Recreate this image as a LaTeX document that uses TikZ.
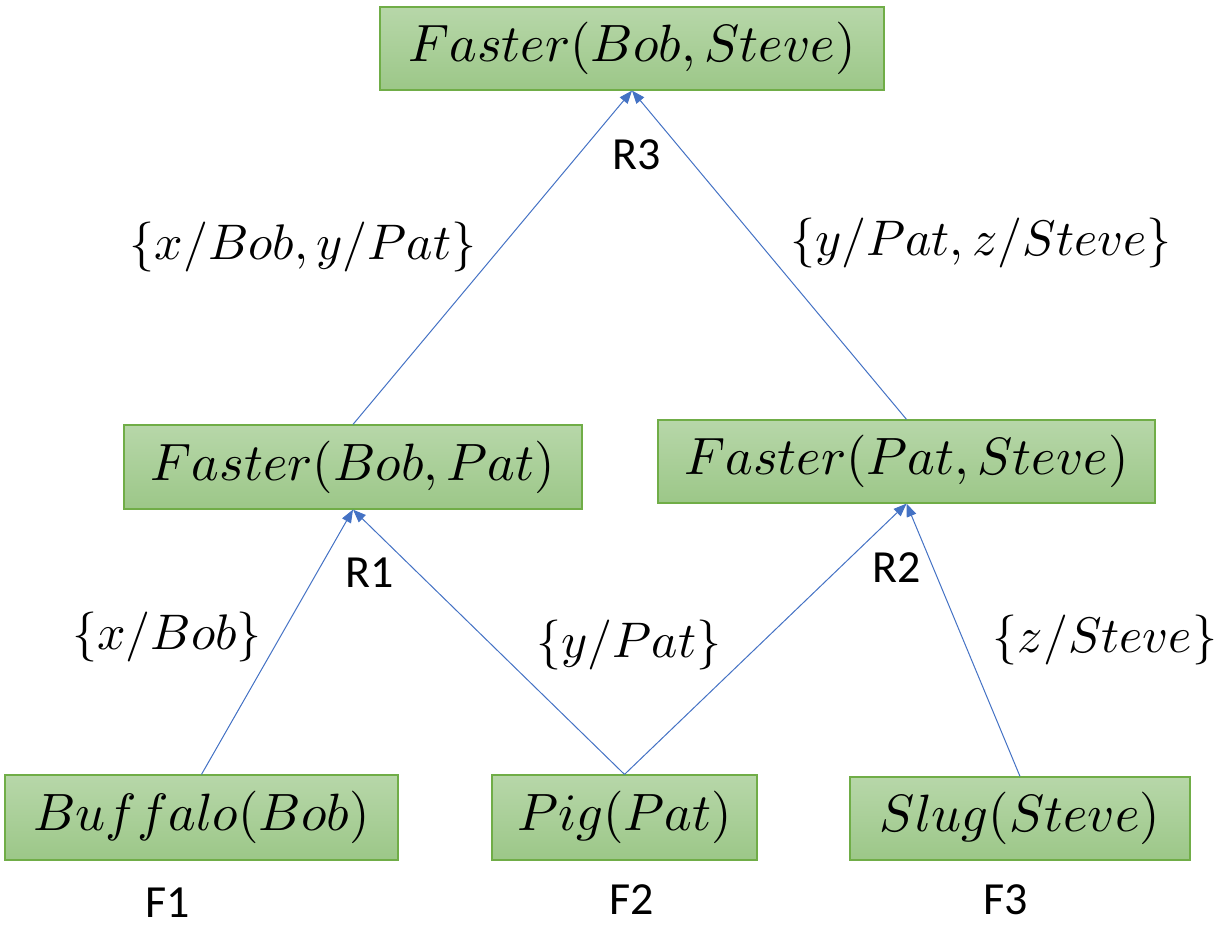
\documentclass[tikz,border=0pt]{standalone}
\usepackage{graphicx}
\usepackage{fontspec}
\newfontfamily\calib{Carlito}
\usetikzlibrary{arrows.meta}
\definecolor{gtop}{HTML}{B7D7A9}
\definecolor{gbot}{HTML}{9CC788}
\definecolor{gborder}{HTML}{70AD47}
\definecolor{arr}{HTML}{4472C4}
\newcommand{\boxmath}[1]{\scalebox{5.25}{$#1$}}
\newcommand{\submath}[1]{\scalebox{5.0}{$#1$}}
\tikzset{
  box/.style={draw=gborder, line width=1.2pt, top color=gtop, bottom color=gbot,
    inner sep=0pt},
  sub/.style={inner sep=0pt},
  tag/.style={font=\calib\fontsize{46}{54}\selectfont, inner sep=0pt},
  conn/.style={draw=arr, line width=1pt, -{Triangle[length=13pt,width=10pt]}}
}
\begin{document}
\begin{tikzpicture}[x=1pt,y=-1pt]
\useasboundingbox (0,0) rectangle (1230,930);
% boxes
\node[box, minimum width=504pt, minimum height=83pt] (top) at (632,48.5) {\boxmath{Faster(Bob,Steve)}};
\node[box, minimum width=458pt, minimum height=84pt] (fbp) at (353,467) {\boxmath{Faster(Bob,Pat)}};
\node[box, minimum width=497pt, minimum height=83pt] (fps) at (906.5,461.5) {\boxmath{Faster(Pat,Steve)}};
\node[box, minimum width=393pt, minimum height=85pt] (buf) at (201.5,817.5) {\boxmath{Buffalo(Bob)}};
\node[box, minimum width=265pt, minimum height=85pt] (pig) at (624.5,817.5) {\boxmath{Pig(Pat)}};
\node[box, minimum width=340pt, minimum height=83pt] (slug) at (1020,818.5) {\boxmath{Slug(Steve)}};
% connectors
\draw[conn] (fbp.north) -- (top.south);
\draw[conn] (fps.north) -- (top.south);
\draw[conn] (buf.north) -- (fbp.south);
\draw[conn] (pig.north) -- (fbp.south);
\draw[conn] (pig.north) -- (fps.south);
\draw[conn] (slug.north) -- (fps.south);
% rule tags
\node[tag] (r3) at (637,155) {R3};
\node[tag] (r1) at (370,573) {R1};
\node[tag] (r2) at (897,568) {R2};
\node[tag] (f1) at (168,903) {F1};
\node[tag] (f2) at (632,900) {F2};
\node[tag] (f3) at (1006,900) {F3};
% substitutions
\node[sub] (s3a) at (303,247) {\submath{\{x/Bob, y/Pat\}}};
\node[sub] (s3b) at (981,243) {\submath{\{y/Pat, z/Steve\}}};
\node[sub] (s1a) at (167,637) {\submath{\{x/Bob\}}};
\node[sub] (s12) at (629,645) {\submath{\{y/Pat\}}};
\node[sub] (s2b) at (1105,640) {\submath{\{z/Steve\}}};
\end{tikzpicture}
\end{document}
